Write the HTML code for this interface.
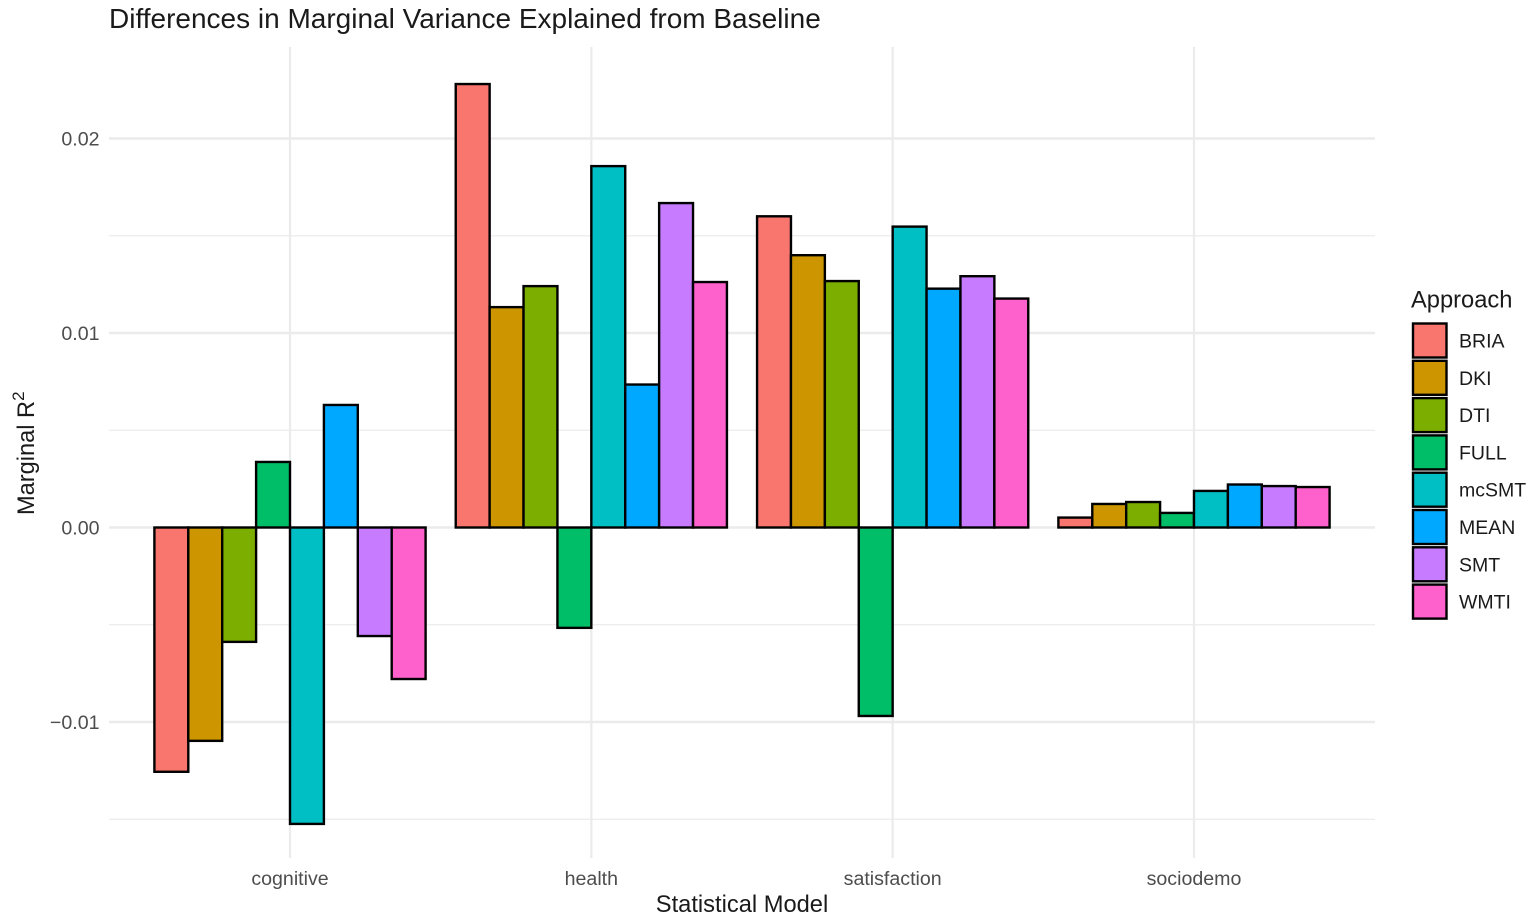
<!DOCTYPE html>
<html>
<head>
<meta charset="utf-8">
<style>
html,body{margin:0;padding:0;background:#fff;width:1535px;height:923px;overflow:hidden}
svg{display:block;font-family:"Liberation Sans",sans-serif}
</style>
</head>
<body>
<svg id="chart" width="1535" height="923" viewBox="0 0 1535 923" xmlns="http://www.w3.org/2000/svg">
<text x="109" y="28" font-size="28" fill="#1a1a1a">Differences in Marginal Variance Explained from Baseline</text>
<text transform="translate(34,515) rotate(-90)" font-size="23.6" fill="#1a1a1a">Marginal R<tspan dy="-10" font-size="17">2</tspan></text>
<text x="742" y="912" font-size="23.7" text-anchor="middle" fill="#1a1a1a">Statistical Model</text>
<text x="1411" y="307.5" font-size="23.7" fill="#1a1a1a">Approach</text>
<g id="grid"></g>
<g id="bars"></g>
<g id="axes"></g>
<g id="legend"></g>
</svg>
<script>
const categories = ['cognitive', 'health', 'satisfaction', 'sociodemo'];
const approaches = ['BRIA', 'DKI', 'DTI', 'FULL', 'mcSMT', 'MEAN', 'SMT', 'WMTI'];
const colors = ['#F8766D', '#CD9600', '#7CAE00', '#00BE67', '#00BFC4', '#00A9FF', '#C77CFF', '#FF61CC'];
const valuesBRIA = [-0.01256, 0.0228, 0.0160, 0.00051];
const valuesDKI = [-0.01097, 0.01133, 0.0140, 0.00121];
const valuesDTI = [-0.00588, 0.01241, 0.01267, 0.00131];
const valuesFULL = [0.00337, -0.00516, -0.00969, 0.00075];
const valuesMcSMT = [-0.01524, 0.01858, 0.01547, 0.00188];
const valuesMEAN = [0.0063, 0.00735, 0.01228, 0.00221];
const valuesSMT = [-0.00558, 0.01668, 0.01292, 0.00213];
const valuesWMTI = [-0.00779, 0.01262, 0.01177, 0.00208];
const yTicks = [-0.01, 0, 0.01, 0.02];
const yTickLabels = ['\u22120.01', '0.00', '0.01', '0.02'];
const yMinorTicks = [-0.015, -0.005, 0.005, 0.015];

const NS = 'http://www.w3.org/2000/svg';
const seriesValues = [valuesBRIA, valuesDKI, valuesDTI, valuesFULL, valuesMcSMT, valuesMEAN, valuesSMT, valuesWMTI];
const plotLeft = 109, plotRight = 1375, plotTop = 47, plotBottom = 858;
const yScale = v => 527.5 - v * 19450;
const xScale = i => 290 + i * 301.33;
const barW = 33.9;

function mk(tag, attrs, parent, text) {
  const el = document.createElementNS(NS, tag);
  for (const k in attrs) el.setAttribute(k, attrs[k]);
  if (text !== undefined) el.textContent = text;
  parent.appendChild(el);
  return el;
}
const grid = document.getElementById('grid');
const bars = document.getElementById('bars');
const axes = document.getElementById('axes');
const legend = document.getElementById('legend');

yMinorTicks.forEach(t => {
  const l = mk('line', {x1: plotLeft, x2: plotRight, y1: yScale(t), y2: yScale(t), stroke: '#ebebeb', 'stroke-width': 1.2}, grid);
  
  
});
yTicks.forEach((t, i) => {
  const l = mk('line', {x1: plotLeft, x2: plotRight, y1: yScale(t), y2: yScale(t), stroke: '#ebebeb', 'stroke-width': 2.4}, grid);
  
  
  const lab = mk('text', {x: 99.5, y: yScale(t) + 7, 'text-anchor': 'end', 'font-size': 19.6, fill: '#4d4d4d'}, axes, yTickLabels[i]);
  
  
});
categories.forEach((c, i) => {
  const l = mk('line', {x1: xScale(i), x2: xScale(i), y1: plotTop, y2: plotBottom, stroke: '#ebebeb', 'stroke-width': 2.2}, grid);
  
  
  const lab = mk('text', {x: xScale(i), y: 885, 'text-anchor': 'middle', 'font-size': 19.6, fill: '#4d4d4d'}, axes, c);
  
  
});
seriesValues.forEach((vals, s) => {
  vals.forEach((v, i) => {
    const x = xScale(i) + (s - 4) * barW;
    const y0 = yScale(0), y1 = yScale(v);
    const r = mk('rect', {x: x, y: Math.min(y0, y1), width: barW, height: Math.abs(y1 - y0), fill: colors[s], stroke: '#000', 'stroke-width': 2.4}, bars);
    
    
  });
});
approaches.forEach((a, i) => {
  const y = 323.5 + i * 37.3;
  const r = mk('rect', {x: 1413, y: y, width: 33.5, height: 34, fill: colors[i], stroke: '#000', 'stroke-width': 2.4}, legend);
  
  
  const t = mk('text', {x: 1459, y: y + 24, 'font-size': 19.5, fill: '#1a1a1a'}, legend, a);
  
  
});
</script>
</body>
</html>
